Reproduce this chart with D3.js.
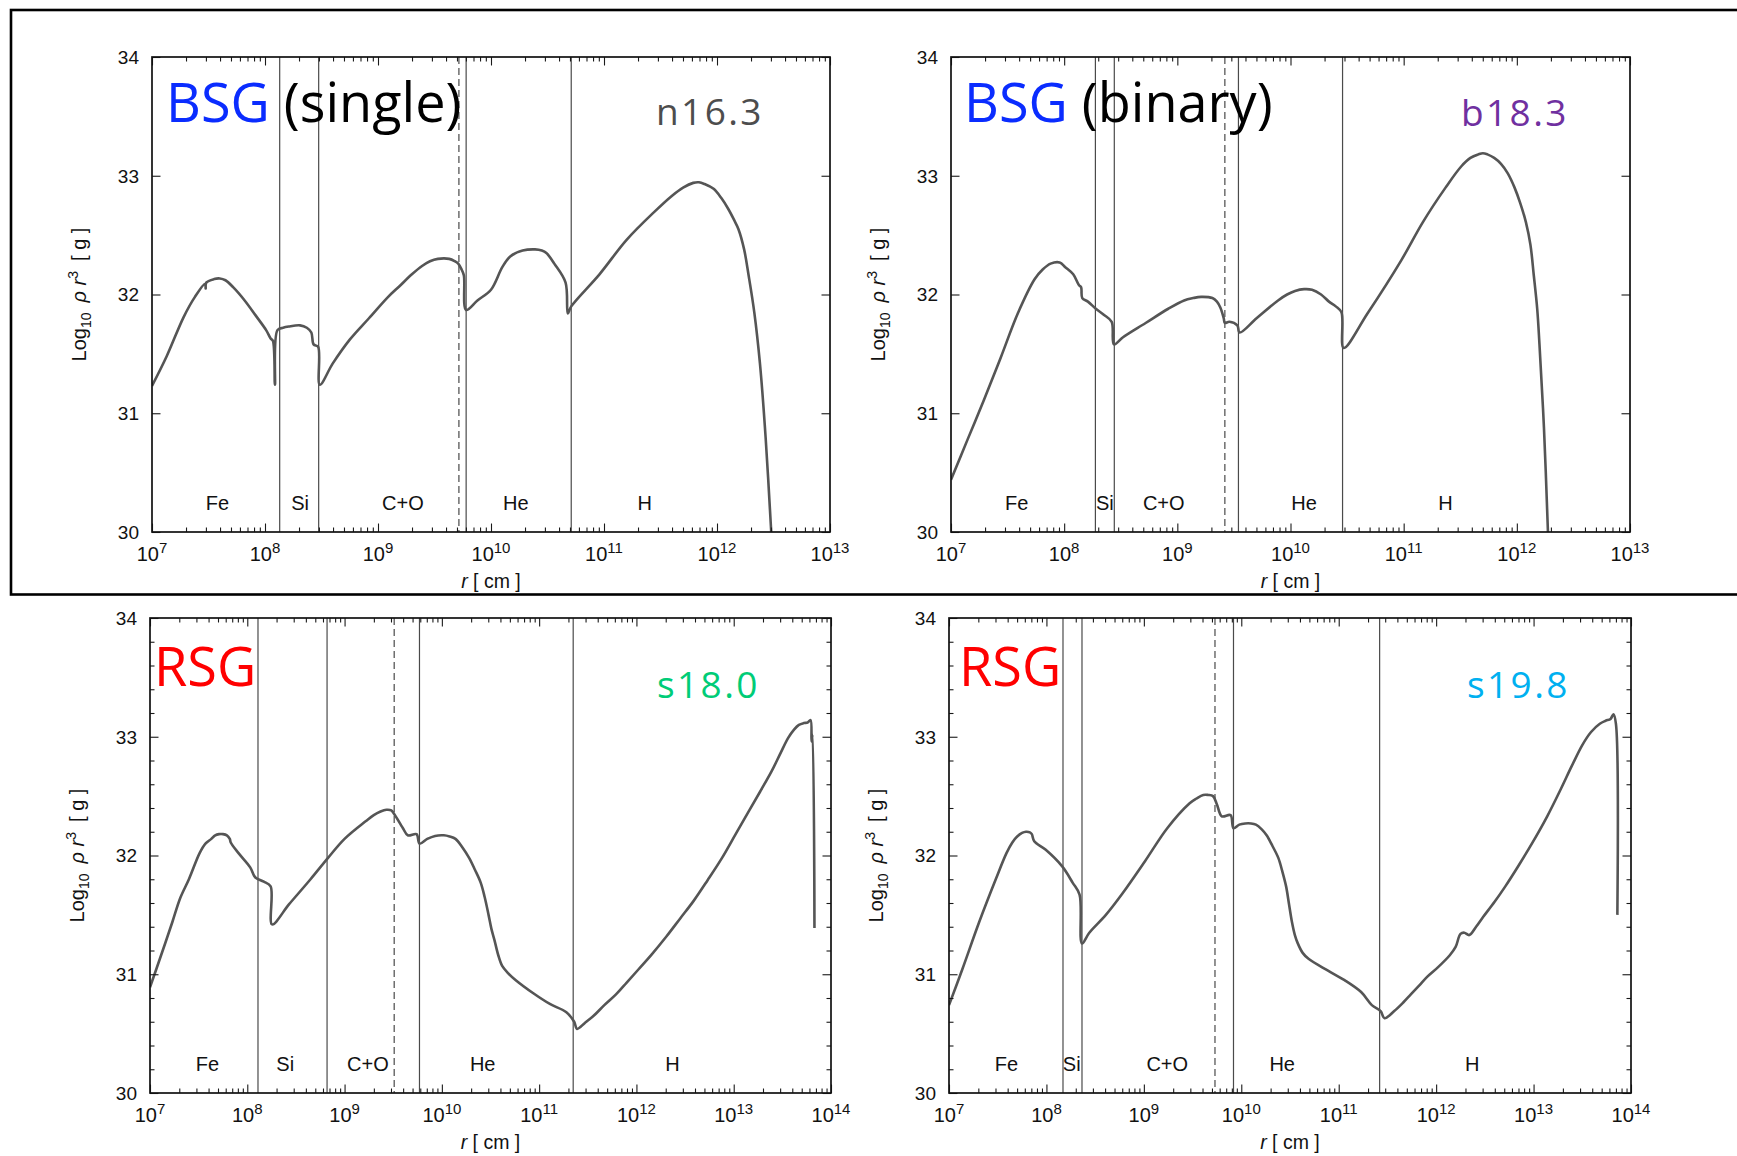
<!DOCTYPE html>
<html>
<head>
<meta charset="utf-8">
<script src="https://cdn.jsdelivr.net/npm/d3@7"></script>
<style>
  body { margin: 0; background: #fff; }
  svg { display: block; }
</style>
</head>
<body>
<script>
// ---- Shared axis values -------------------------------------------------
const yTickValues = [30, 31, 32, 33, 34];
const xExpTop = [7, 8, 9, 10, 11, 12, 13];
const xExpBottom = [7, 8, 9, 10, 11, 12, 13, 14];
const regionNames = ["Fe", "Si", "C+O", "He", "H"];

// ---- n16.3 (BSG, single) : log10 r [cm] and log10 rho r^3 [g] -----------
const n163LogR = [7.00, 7.13, 7.28, 7.38, 7.47, 7.475, 7.48, 7.55, 7.60, 7.65, 7.72, 7.82, 7.92, 8.01, 8.05, 8.07, 8.088, 8.11, 8.16, 8.21, 8.31, 8.37, 8.41, 8.43, 8.47, 8.485, 8.60, 8.75, 8.92, 9.09, 9.19, 9.30, 9.39, 9.46, 9.53, 9.63, 9.68, 9.71, 9.74, 9.76, 9.78, 9.88, 10.00, 10.10, 10.17, 10.28, 10.39, 10.45, 10.49, 10.56, 10.66, 10.68, 10.71, 10.96, 11.20, 11.45, 11.60, 11.70, 11.79, 11.84, 11.89, 11.97, 12.04, 12.10, 12.15, 12.19, 12.24, 12.28, 12.33, 12.38, 12.43, 12.48];
const n163Val  = [31.23, 31.48, 31.81, 31.98, 32.09, 32.05, 32.10, 32.13, 32.135, 32.12, 32.06, 31.95, 31.82, 31.70, 31.63, 31.61, 31.24, 31.70, 31.72, 31.73, 31.74, 31.72, 31.68, 31.58, 31.56, 31.24, 31.42, 31.62, 31.80, 31.98, 32.07, 32.17, 32.24, 32.28, 32.30, 32.30, 32.28, 32.26, 32.21, 32.16, 31.87, 31.95, 32.04, 32.23, 32.32, 32.37, 32.38, 32.37, 32.35, 32.26, 32.10, 31.84, 31.90, 32.17, 32.46, 32.70, 32.83, 32.90, 32.94, 32.945, 32.93, 32.89, 32.81, 32.72, 32.63, 32.55, 32.38, 32.16, 31.85, 31.42, 30.80, 30.00];
const n163Solid = [8.13, 8.475, 9.78, 10.71];
const n163Dashed = [9.716];
const n163LabelAt = [7.58, 8.31, 9.22, 10.22, 11.36];

// ---- b18.3 (BSG, binary) ------------------------------------------------
const b183LogR = [7.00, 7.147, 7.29, 7.44, 7.59, 7.74, 7.81, 7.88, 7.96, 8.01, 8.08, 8.13, 8.15, 8.16, 8.21, 8.28, 8.35, 8.42, 8.44, 8.52, 8.72, 8.92, 9.06, 9.14, 9.21, 9.31, 9.35, 9.38, 9.41, 9.42, 9.46, 9.53, 9.55, 9.70, 9.89, 9.97, 10.04, 10.12, 10.19, 10.27, 10.34, 10.40, 10.45, 10.47, 10.68, 10.98, 11.17, 11.37, 11.51, 11.59, 11.66, 11.70, 11.74, 11.80, 11.86, 11.92, 11.98, 12.03, 12.08, 12.12, 12.15, 12.18, 12.20, 12.24, 12.275];
const b183Val  = [30.44, 30.78, 31.11, 31.47, 31.84, 32.13, 32.21, 32.26, 32.27, 32.23, 32.17, 32.08, 32.06, 31.97, 31.94, 31.88, 31.83, 31.77, 31.58, 31.64, 31.76, 31.88, 31.95, 31.97, 31.98, 31.97, 31.94, 31.89, 31.80, 31.76, 31.77, 31.74, 31.68, 31.80, 31.95, 32.00, 32.03, 32.045, 32.04, 32.00, 31.94, 31.90, 31.85, 31.55, 31.84, 32.29, 32.61, 32.90, 33.08, 33.15, 33.18, 33.19, 33.18, 33.15, 33.10, 33.02, 32.90, 32.77, 32.61, 32.42, 32.16, 31.88, 31.58, 30.87, 30.00];
const b183Solid = [8.276, 8.443, 9.54, 10.46];
const b183Dashed = [9.42];
const b183LabelAt = [7.58, 8.36, 8.88, 10.12, 11.37];

// ---- s18.0 (RSG) --------------------------------------------------------
const s180LogR = [7.00, 7.114, 7.23, 7.31, 7.40, 7.51, 7.57, 7.63, 7.67, 7.71, 7.75, 7.79, 7.82, 7.83, 7.91, 8.03, 8.07, 8.09, 8.17, 8.24, 8.255, 8.43, 8.65, 8.83, 9.00, 9.22, 9.30, 9.37, 9.43, 9.48, 9.51, 9.60, 9.65, 9.74, 9.77, 9.85, 9.93, 10.02, 10.08, 10.14, 10.21, 10.28, 10.34, 10.40, 10.44, 10.48, 10.51, 10.54, 10.58, 10.62, 10.68, 10.76, 10.94, 11.11, 11.28, 11.36, 11.39, 11.47, 11.56, 11.67, 11.79, 11.90, 12.02, 12.16, 12.31, 12.45, 12.59, 12.73, 12.88, 13.02, 13.16, 13.28, 13.39, 13.48, 13.56, 13.62, 13.67, 13.72, 13.76, 13.79, 13.80, 13.81, 13.83];
const s180Val  = [30.89, 31.16, 31.44, 31.64, 31.80, 32.02, 32.10, 32.14, 32.17, 32.18, 32.18, 32.17, 32.14, 32.11, 32.02, 31.90, 31.83, 31.81, 31.78, 31.74, 31.42, 31.59, 31.80, 31.98, 32.14, 32.29, 32.34, 32.37, 32.385, 32.38, 32.35, 32.23, 32.17, 32.18, 32.10, 32.14, 32.165, 32.17, 32.16, 32.14, 32.07, 31.98, 31.88, 31.77, 31.65, 31.50, 31.38, 31.29, 31.16, 31.07, 31.01, 30.95, 30.84, 30.75, 30.68, 30.60, 30.54, 30.59, 30.65, 30.74, 30.83, 30.93, 31.04, 31.17, 31.32, 31.47, 31.62, 31.79, 31.98, 32.18, 32.38, 32.55, 32.71, 32.86, 32.99, 33.06, 33.10, 33.115, 33.12, 33.14, 32.96, 33.02, 31.39];
const s180Solid = [8.11, 8.82, 9.77, 11.35];
const s180Dashed = [9.51];
const s180LabelAt = [7.59, 8.39, 9.24, 10.42, 12.37];

// ---- s19.8 (RSG) --------------------------------------------------------
const s198LogR = [7.00, 7.136, 7.31, 7.48, 7.59, 7.65, 7.70, 7.75, 7.79, 7.83, 7.85, 7.875, 7.99, 8.16, 8.27, 8.34, 8.365, 8.44, 8.61, 8.78, 9.01, 9.24, 9.47, 9.54, 9.61, 9.66, 9.71, 9.75, 9.80, 9.89, 9.92, 9.98, 10.04, 10.10, 10.15, 10.21, 10.26, 10.32, 10.38, 10.42, 10.46, 10.49, 10.52, 10.55, 10.58, 10.63, 10.69, 10.89, 11.06, 11.23, 11.34, 11.43, 11.47, 11.57, 11.66, 11.74, 11.82, 11.91, 12.02, 12.14, 12.20, 12.25, 12.29, 12.34, 12.41, 12.48, 12.60, 12.71, 12.85, 12.99, 13.14, 13.28, 13.39, 13.50, 13.59, 13.68, 13.74, 13.79, 13.82, 13.845, 13.86];
const s198Val  = [30.74, 31.04, 31.44, 31.80, 32.02, 32.11, 32.16, 32.19, 32.20, 32.195, 32.18, 32.12, 32.05, 31.91, 31.77, 31.67, 31.26, 31.35, 31.50, 31.68, 31.95, 32.23, 32.44, 32.48, 32.51, 32.51, 32.50, 32.43, 32.33, 32.34, 32.23, 32.26, 32.27, 32.27, 32.26, 32.22, 32.17, 32.08, 31.98, 31.87, 31.74, 31.59, 31.44, 31.33, 31.26, 31.18, 31.13, 31.03, 30.95, 30.85, 30.74, 30.69, 30.63, 30.69, 30.76, 30.83, 30.90, 30.98, 31.06, 31.16, 31.23, 31.34, 31.35, 31.33, 31.40, 31.48, 31.61, 31.74, 31.92, 32.11, 32.33, 32.56, 32.75, 32.93, 33.04, 33.11, 33.135, 33.15, 33.19, 33.11, 31.50];
const s198Solid = [8.17, 8.365, 9.92, 11.42];
const s198Dashed = [9.73];
const s198LabelAt = [7.59, 8.26, 9.24, 10.42, 12.37];

// ---- Panel layout -------------------------------------------------------
const panels = [
  { left: 152, right: 830, top: 57, bottom: 532, exps: xExpTop, minorY: false,
    logR: n163LogR, val: n163Val, solid: n163Solid, dashed: n163Dashed, labelAt: n163LabelAt,
    title: [["BSG", "#0A2CFF"], [" (single)", "#000"]], titleX: 166, titleY: 121.5,
    model: "n16.3", modelColor: "#4d4d4d", modelX: 656, modelY: 125 },
  { left: 951, right: 1630, top: 57, bottom: 532, exps: xExpTop, minorY: false,
    logR: b183LogR, val: b183Val, solid: b183Solid, dashed: b183Dashed, labelAt: b183LabelAt,
    title: [["BSG", "#0A2CFF"], [" (binary)", "#000"]], titleX: 964, titleY: 121.5,
    model: "b18.3", modelColor: "#7030A0", modelX: 1461, modelY: 126 },
  { left: 150, right: 831, top: 618, bottom: 1093, exps: xExpBottom, minorY: true,
    logR: s180LogR, val: s180Val, solid: s180Solid, dashed: s180Dashed, labelAt: s180LabelAt,
    title: [["RSG", "#FF0000"]], titleX: 154, titleY: 686,
    model: "s18.0", modelColor: "#00CC77", modelX: 657, modelY: 698 },
  { left: 949, right: 1631, top: 618, bottom: 1093, exps: xExpBottom, minorY: true,
    logR: s198LogR, val: s198Val, solid: s198Solid, dashed: s198Dashed, labelAt: s198LabelAt,
    title: [["RSG", "#FF0000"]], titleX: 959, titleY: 686,
    model: "s19.8", modelColor: "#00B0F0", modelX: 1467, modelY: 698 }
];

const W = 1737, H = 1156;
const axisFont = "'Liberation Sans', Arial, Helvetica, sans-serif";
const titleFont = "'Open Sans', 'Noto Sans', sans-serif";

const svg = d3.select("body").append("svg")
  .attr("width", W).attr("height", H)
  .attr("viewBox", `0 0 ${W} ${H}`);

// box around the blue-supergiant row
svg.append("rect")
  .attr("x", 11).attr("y", 10)
  .attr("width", W + 20).attr("height", 584.5)
  .attr("fill", "none").attr("stroke", "#000").attr("stroke-width", 2.6);

function styleAxis(sel) {
  sel.select(".domain").remove();
  sel.selectAll(".tick line").attr("stroke", "#1a1a1a").attr("stroke-width", 1.1);
}

panels.forEach((p, i) => {
  const g = svg.append("g");
  const xMax = Math.pow(10, p.exps[p.exps.length - 1]);
  const x = d3.scaleLog().domain([1e7, xMax]).range([p.left, p.right]);
  const y = d3.scaleLinear().domain([30, 34]).range([p.bottom, p.top]);

  const majors = p.exps.map(e => Math.pow(10, e));
  const minors = [];
  p.exps.slice(0, -1).forEach(e => {
    for (let k = 2; k <= 9; k++) minors.push(k * Math.pow(10, e));
  });

  // clip region for the profile
  const clipId = "clip" + i;
  svg.append("clipPath").attr("id", clipId)
    .append("rect")
    .attr("x", p.left).attr("y", p.top)
    .attr("width", p.right - p.left).attr("height", p.bottom - p.top);

  // shell boundaries
  g.selectAll(".solidb").data(p.solid).join("line")
    .attr("x1", d => x(Math.pow(10, d))).attr("x2", d => x(Math.pow(10, d)))
    .attr("y1", p.top).attr("y2", p.bottom)
    .attr("stroke", "#4a4a4a").attr("stroke-width", 1.2);
  g.selectAll(".dashb").data(p.dashed).join("line")
    .attr("x1", d => x(Math.pow(10, d))).attr("x2", d => x(Math.pow(10, d)))
    .attr("y1", p.top).attr("y2", p.bottom)
    .attr("stroke", "#4a4a4a").attr("stroke-width", 1.2)
    .attr("stroke-dasharray", "7,4");

  // region names
  g.selectAll(".region").data(regionNames).join("text")
    .attr("x", (d, j) => x(Math.pow(10, p.labelAt[j])))
    .attr("y", p.bottom - 22)
    .attr("text-anchor", "middle")
    .attr("font-family", axisFont).attr("font-size", 20).attr("fill", "#111")
    .text(d => d);

  // profile
  const pts = p.logR.map((r, j) => [r, p.val[j]]);
  const line = d3.line()
    .x(d => x(Math.pow(10, d[0])))
    .y(d => y(d[1]))
    .curve(d3.curveCatmullRom.alpha(0.5));
  g.append("path").datum(pts)
    .attr("clip-path", `url(#${clipId})`)
    .attr("d", line)
    .attr("fill", "none").attr("stroke", "#555").attr("stroke-width", 2.6)
    .attr("stroke-linejoin", "round");

  // ticks (inward, mirrored on all four sides)
  g.append("g").attr("transform", `translate(0,${p.bottom})`)
    .call(d3.axisBottom(x).tickValues(majors).tickSize(-8.5).tickFormat("")).call(styleAxis);
  g.append("g").attr("transform", `translate(0,${p.bottom})`)
    .call(d3.axisBottom(x).tickValues(minors).tickSize(-4.5).tickFormat("")).call(styleAxis);
  g.append("g").attr("transform", `translate(0,${p.top})`)
    .call(d3.axisTop(x).tickValues(majors).tickSize(-8.5).tickFormat("")).call(styleAxis);
  g.append("g").attr("transform", `translate(0,${p.top})`)
    .call(d3.axisTop(x).tickValues(minors).tickSize(-4.5).tickFormat("")).call(styleAxis);
  g.append("g").attr("transform", `translate(${p.left},0)`)
    .call(d3.axisLeft(y).tickValues(yTickValues).tickSize(-8.5).tickFormat("")).call(styleAxis);
  g.append("g").attr("transform", `translate(${p.right},0)`)
    .call(d3.axisRight(y).tickValues(yTickValues).tickSize(-8.5).tickFormat("")).call(styleAxis);
  if (p.minorY) {
    const yMinor = d3.range(30, 34.001, 0.2).filter(v => Math.abs(v - Math.round(v)) > 1e-6);
    g.append("g").attr("transform", `translate(${p.left},0)`)
      .call(d3.axisLeft(y).tickValues(yMinor).tickSize(-4.5).tickFormat("")).call(styleAxis);
    g.append("g").attr("transform", `translate(${p.right},0)`)
      .call(d3.axisRight(y).tickValues(yMinor).tickSize(-4.5).tickFormat("")).call(styleAxis);
  }

  // frame
  g.append("rect")
    .attr("x", p.left).attr("y", p.top)
    .attr("width", p.right - p.left).attr("height", p.bottom - p.top)
    .attr("fill", "none").attr("stroke", "#111").attr("stroke-width", 1.7);

  // y tick labels
  g.selectAll(".ylab").data(yTickValues).join("text")
    .attr("x", p.left - 13).attr("y", d => y(d)).attr("dy", "0.36em")
    .attr("text-anchor", "end")
    .attr("font-family", axisFont).attr("font-size", 19).attr("fill", "#111")
    .text(d => d);

  // x tick labels 10^n
  const xl = g.selectAll(".xlab").data(p.exps).join("text")
    .attr("x", d => x(Math.pow(10, d))).attr("y", p.bottom + 29)
    .attr("text-anchor", "middle")
    .attr("font-family", axisFont).attr("font-size", 20).attr("fill", "#111");
  xl.append("tspan").text("10");
  xl.append("tspan").attr("dy", -8).attr("font-size", 15).text(d => d);

  // axis titles
  const xt = g.append("text")
    .attr("x", (p.left + p.right) / 2).attr("y", p.bottom + 56)
    .attr("text-anchor", "middle")
    .attr("font-family", axisFont).attr("font-size", 19.5).attr("fill", "#111");
  xt.append("tspan").attr("font-style", "italic").text("r");
  xt.append("tspan").text(" [ cm ]");

  const yt = g.append("text")
    .attr("transform", `translate(${p.left - 66},${(p.top + p.bottom) / 2}) rotate(-90)`)
    .attr("text-anchor", "middle")
    .attr("font-family", axisFont).attr("font-size", 20).attr("fill", "#111");
  yt.append("tspan").text("Log");
  yt.append("tspan").attr("dy", 5).attr("font-size", 14).text("10");
  yt.append("tspan").attr("dy", -5).text("\u2002");
  yt.append("tspan").attr("font-style", "italic").text("\u03C1 r");
  yt.append("tspan").attr("dy", -8).attr("font-size", 14).text("3");
  yt.append("tspan").attr("dy", 8).text("\u2002[ g ]");

  // panel titles
  const tt = g.append("text")
    .attr("x", p.titleX).attr("y", p.titleY)
    .attr("font-family", titleFont).attr("font-size", 54);
  p.title.forEach(([s, c]) => tt.append("tspan").attr("fill", c).text(s));

  g.append("text")
    .attr("x", p.modelX).attr("y", p.modelY)
    .attr("font-family", titleFont).attr("font-size", 37)
    .attr("letter-spacing", 2.4)
    .attr("fill", p.modelColor)
    .text(p.model);
});
</script>
</body>
</html>
